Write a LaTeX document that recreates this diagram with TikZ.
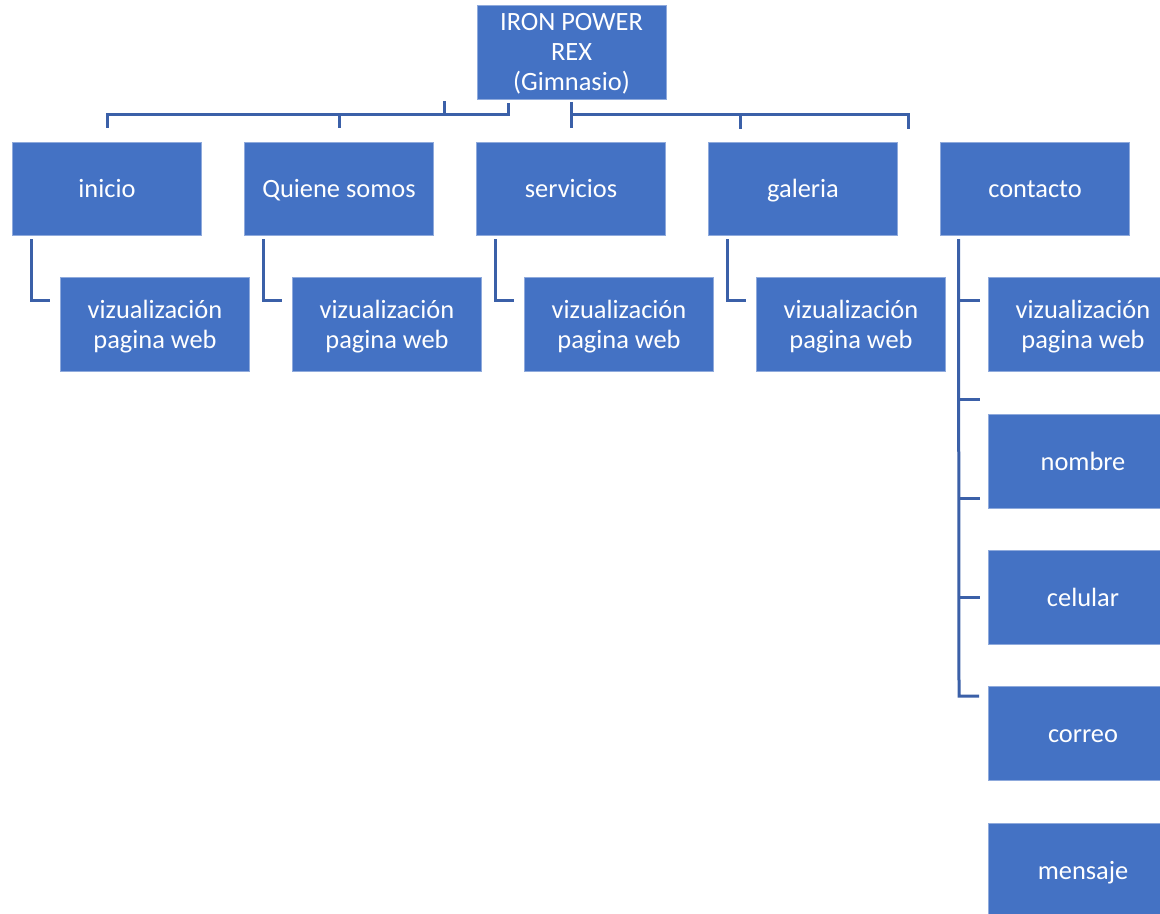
\documentclass[tikz,border=0pt]{standalone}
\usepackage{fontspec}
\setmainfont{Carlito}
\definecolor{azulCaja}{HTML}{4472C4}
\definecolor{azulBorde}{HTML}{8FAADC}
\definecolor{azulLinea}{HTML}{3B60A8}
\newcommand\puntal{\rule[-3pt]{0pt}{15pt}}
\tikzset{
  caja/.style={rectangle, fill=azulCaja, draw=azulBorde, line width=0.4pt,
    minimum width=94.5pt, minimum height=46.75pt, inner sep=1pt,
    align=center, text=white, font=\fontsize{13.2}{15}\selectfont},
  linea/.style={draw=azulLinea, line width=1.5pt}
}
\begin{document}
\begin{tikzpicture}[x=0.5pt,y=-0.5pt]
        \useasboundingbox (0,0) rectangle (1160,914);
        \node[caja] (rex) at (571.5,52) {\puntal IRON POWER\\REX\\(Gimnasio)\puntal};
		\foreach \id/\txt [count=\i from 0] in {inicio/inicio,quiene/Quiene somos,servicios/servicios,galeria/galeria,contacto/contacto} {
			\node[caja] (\id) at (107+232*\i,189) {\txt\puntal};
			\node[caja] (\id-vis) at (155+232*\i,324.5) {\puntal vizualización\\pagina web\puntal};}
		\node[caja] (nombre) at (1083,461.5) {nombre\puntal};
		\node[caja] (celular) at (1083,597.5) {celular\puntal};
		\node[caja] (correo) at (1083,733.5) {correo\puntal};
		\node[caja] (mensaje) at (1083,870.5) {mensaje\puntal};

		\coordinate (busIzq) at (508,115);
		\coordinate (busDer) at (908,115);
		\draw[linea] ([yshift=7pt]inicio.north) |- (busIzq) -- ++(0,-12);
		\draw[linea] ([yshift=7pt]quiene.north) -- ++(0,-14);
		\draw[linea] (444,115) -- ++(0,-14);
		\draw[linea] (571,102) -- ([yshift=7pt]servicios.north);
		\draw[linea] (571,115) -- (busDer) -- ++(0,14);
		\draw[linea] (740,115) -- ++(0,14);

		\foreach \id in {inicio,quiene,servicios,galeria} {
			\draw[linea] ([xshift=-38pt,yshift=-1.5pt]\id.south) |- ([xshift=-5pt,yshift=12pt]\id-vis.west);}
		\draw[linea] ([xshift=-38.25pt,yshift=-1.5pt]contacto.south) -- (959,696) -- ([xshift=-4.5pt,yshift=18.75pt]correo.west);
		\foreach \y in {301,399,498,597} {
			\draw[linea] (959,\y) -- ++(21,0);}
\end{tikzpicture}
\end{document}
